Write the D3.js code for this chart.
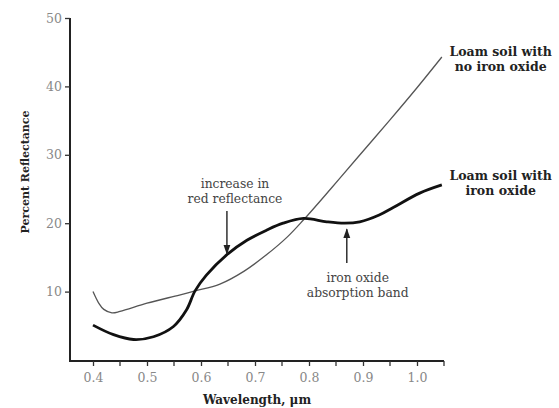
<!DOCTYPE html>
<html><head><meta charset="utf-8">
<script src="https://cdn.jsdelivr.net/npm/d3@7"></script>
<style>body{margin:0;background:#fff}svg{display:block}</style>
</head><body>
<svg id="c" width="559" height="408"></svg>
<script>
const wlNoIron = [0.40,0.41,0.42,0.435,0.45,0.50,0.56,0.589,0.635,0.68,0.72,0.76,0.79,0.84,0.89,0.95,1.00,1.046];
const valNoIron = [10.0,8.4,7.4,6.9,7.1,8.3,9.5,10.1,11.1,13.0,15.3,18.0,20.5,25.0,29.6,35.1,39.8,44.3];
const wlIron = [0.40,0.438,0.475,0.512,0.549,0.573,0.589,0.61,0.648,0.685,0.722,0.752,0.79,0.833,0.866,0.894,0.93,0.956,1.005,1.046];
const valIron = [5.1,3.7,3.0,3.4,4.9,7.3,10.1,12.4,15.4,17.5,19.0,20.0,20.7,20.2,20.0,20.2,21.2,22.3,24.4,25.6];
const xMajor = [0.4,0.5,0.6,0.7,0.8,0.9,1.0];
const xMajorLabels = ["0.4","0.5","0.6","0.7","0.8","0.9","1.0"];
const xMinor = [0.45,0.55,0.65,0.75,0.85,0.95,1.05];
const yTicks = [10,20,30,40,50];
const seriesLabels = [["Loam soil with","no iron oxide"],["Loam soil with","iron oxide"]];
const annRed = ["increase in","red reflectance"];
const annBand = ["iron oxide","absorption band"];

const svg = d3.select("#c");
const x = d3.scaleLinear().domain([0.3574,1.05]).range([70,444]);
const y = d3.scaleLinear().domain([0,50]).range([360,18]);
const serif = "'DejaVu Serif',serif";

svg.append("defs").append("marker").attr("id","ah").attr("viewBox","0 0 10 10")
  .attr("refX",9).attr("refY",5).attr("markerWidth",7).attr("markerHeight",9).attr("orient","auto")
  .append("path").attr("d","M0,1.5 L10,5 L0,8.5 Z").attr("fill","#222");

const xAx = svg.append("g").attr("transform","translate(0,361)")
  .call(d3.axisBottom(x).tickValues(xMajor).tickFormat((d,i)=>xMajorLabels[i]).tickSize(5).tickPadding(7));
xAx.select(".domain").attr("d","M70,0H444").attr("stroke","#222").attr("stroke-width",2);
xAx.selectAll(".tick line").attr("stroke","#333").attr("stroke-width",1.3);
xAx.selectAll("text").attr("font-family",serif).attr("font-size",12.5).attr("fill","#888");
svg.append("g").selectAll("line").data(xMinor).join("line")
  .attr("x1",d=>x(d)).attr("x2",d=>x(d)).attr("y1",361).attr("y2",366)
  .attr("stroke","#333").attr("stroke-width",1.3);

const yAx = svg.append("g").attr("transform","translate(70,0)")
  .call(d3.axisLeft(y).tickValues(yTicks).tickSize(5).tickPadding(3));
yAx.select(".domain").attr("d","M0,18V362").attr("stroke","#222").attr("stroke-width",2);
yAx.selectAll(".tick line").attr("stroke","#333").attr("stroke-width",1.3);
yAx.selectAll("text").attr("font-family",serif).attr("font-size",12.5).attr("fill","#888");

svg.append("text").attr("x",257).attr("y",404).attr("text-anchor","middle")
  .attr("font-family",serif).attr("font-weight","bold").attr("font-size",12).attr("fill","#222")
  .text("Wavelength, μm");
svg.append("text").attr("transform","translate(29,172) rotate(-90)").attr("text-anchor","middle")
  .attr("font-family",serif).attr("font-weight","bold").attr("font-size",11).attr("fill","#222")
  .text("Percent Reflectance");

const line = d3.line().x(d=>x(d[0])).y(d=>y(d[1])).curve(d3.curveCatmullRom.alpha(0.5));
svg.append("path").datum(d3.zip(wlNoIron,valNoIron)).attr("d",line)
  .attr("fill","none").attr("stroke","#555").attr("stroke-width",1.3);
svg.append("path").datum(d3.zip(wlIron,valIron)).attr("d",line)
  .attr("fill","none").attr("stroke","#111").attr("stroke-width",2.8);

function block(lines,cx,cy,opts){
  const t = svg.append("text").attr("text-anchor","middle").attr("font-family",serif)
    .attr("font-size",opts.size).attr("font-weight",opts.bold?"bold":"normal").attr("fill",opts.fill);
  lines.forEach((s,i)=>t.append("tspan").attr("x",cx).attr("y",cy+i*opts.lh).text(s));
}
block(seriesLabels[0],500.7,56,{size:12.5,bold:true,lh:15,fill:"#222"});
block(seriesLabels[1],500.7,180,{size:12.5,bold:true,lh:15,fill:"#222"});
block(annRed,235,188,{size:12.3,bold:false,lh:15,fill:"#444"});
block(annBand,357.7,282,{size:12.3,bold:false,lh:15,fill:"#444"});

svg.append("line").attr("x1",x(0.648)).attr("x2",x(0.648)).attr("y1",211).attr("y2",y(15.4)-1)
  .attr("stroke","#222").attr("stroke-width",1.4).attr("marker-end","url(#ah)");
svg.append("line").attr("x1",x(0.87)).attr("x2",x(0.87)).attr("y1",263).attr("y2",y(20.0)+6)
  .attr("stroke","#222").attr("stroke-width",1.4).attr("marker-end","url(#ah)");
</script>
</body></html>
